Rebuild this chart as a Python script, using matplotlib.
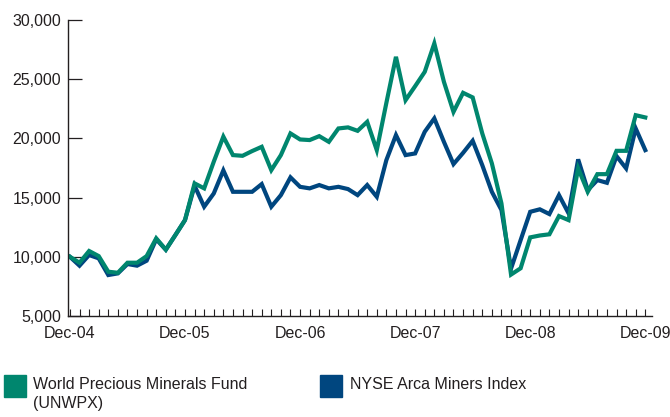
import numpy as np
import matplotlib
matplotlib.use("Agg")
import matplotlib.pyplot as plt
from matplotlib.patches import Rectangle

# monthly values, Dec-04 .. Dec-09 (growth of 10,000)
fund = [10000, 9500, 10490, 10060, 8740, 8650, 9500, 9500, 10060, 11560,
        10600, 11840, 13100, 16200, 15780, 18030, 20150, 18590, 18530, 18930,
        19290, 17320, 18590, 20420, 19910, 19860, 20190, 19710, 20840, 20930,
        20640, 21400, 19010, 23000, 26890, 23230, 24410, 25620, 28020, 24780,
        22240, 23850, 23460, 20420, 17890, 14510, 8500, 9030, 11640, 11800,
        11900, 13440, 13100, 17470, 15490, 16980, 16980, 18950, 18950, 21960,
        21770]
index = [10000, 9250, 10150, 9870, 8460, 8600, 9390, 9250, 9670, 11480,
         10600, 11840, 13100, 16000, 14230, 15350, 17300, 15490, 15490, 15490,
         16140, 14230, 15210, 16710, 15910, 15780, 16060, 15780, 15910, 15720,
         15210, 16060, 15070, 18170, 20280, 18590, 18730, 20560, 21690, 19710,
         17830, 18780, 19800, 17740, 15490, 13950, 9000, 11410, 13800, 14010,
         13610, 15210, 13670, 18230, 15630, 16480, 16250, 18500, 17470, 20840,
         19010]
year_labels = ["Dec-04", "Dec-05", "Dec-06", "Dec-07", "Dec-08", "Dec-09"]
y_ticks = [5000, 10000, 15000, 20000, 25000, 30000]
fund_name = "World Precious Minerals Fund\n(UNWPX)"
index_name = "NYSE Arca Miners Index"

GREEN = "#00866e"
BLUE = "#00467f"
INK = "#231f20"

plt.rcParams["font.family"] = ["Liberation Sans", "DejaVu Sans"]

fig = plt.figure(figsize=(6.7, 4.17), dpi=100)
ax = fig.add_axes([68 / 670, 1 - 316 / 417, 584 / 670, 296 / 417])

months = np.arange(len(fund))
ax.plot(months, index, color=BLUE, lw=3, solid_joinstyle="miter")
ax.plot(months, fund, color=GREEN, lw=3, solid_joinstyle="miter")

ax.set_xlim(-0.2, 60.7)
ax.set_ylim(5000, 30000)

for s in ["top", "right"]:
    ax.spines[s].set_visible(False)
for s in ["left", "bottom"]:
    ax.spines[s].set_color(INK)
    ax.spines[s].set_linewidth(1)

ax.set_yticks(y_ticks)
ax.set_yticklabels([f"{v:,}" for v in y_ticks])
ax.tick_params(axis="y", direction="in", length=10, width=0.9, color=INK,
               labelsize=11.5, labelcolor=INK, pad=5)

ax.set_xticks(np.arange(0, 61, 12))
ax.set_xticklabels(year_labels)
ax.set_xticks(np.arange(0, 61), minor=True)
ax.tick_params(axis="x", which="both", direction="in", length=5, width=0.8,
               color=INK, labelsize=11.5, labelcolor=INK, pad=7)

# legend
fig.patches.append(Rectangle((4 / 670, 1 - 397 / 417), 22 / 670, 22 / 417,
                             transform=fig.transFigure, color=GREEN))
fig.text(33 / 670, 1 - 377 / 417, fund_name, fontsize=11.5, color=INK,
         va="top", ha="left", linespacing=1.3)
fig.patches.append(Rectangle((320 / 670, 1 - 397 / 417), 22 / 670, 22 / 417,
                             transform=fig.transFigure, color=BLUE))
fig.text(350 / 670, 1 - 377 / 417, index_name, fontsize=11.5, color=INK,
         va="top", ha="left")

fig.savefig("out.png", dpi=100)
